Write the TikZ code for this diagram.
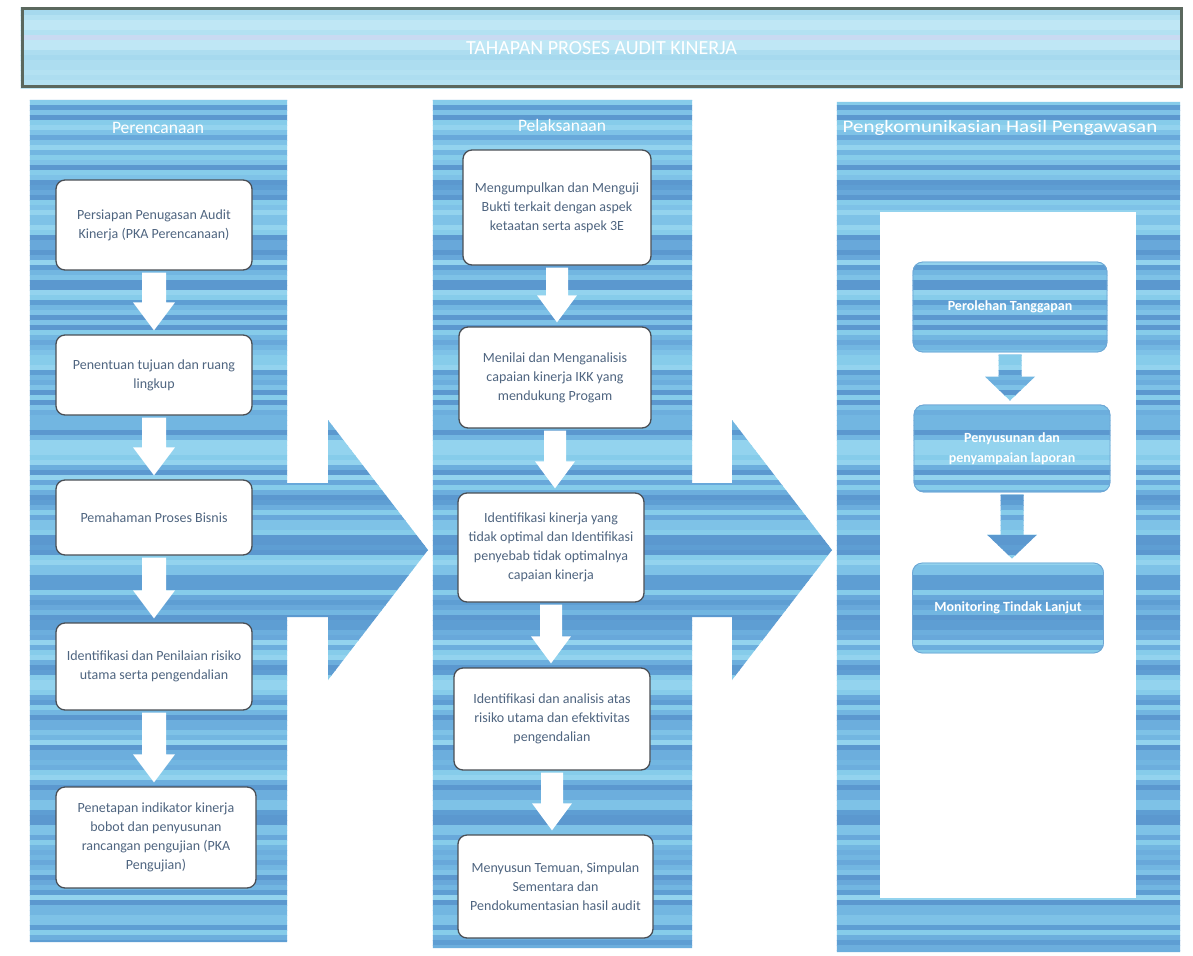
\documentclass[tikz,border=0pt]{standalone}
\usepackage{fontspec}
\setmainfont{Carlito}
\usetikzlibrary{calc}
\pgfdeclarelayer{back}
\pgfdeclarelayer{inner}
\pgfdeclarelayer{mid}
\pgfsetlayers{back,inner,mid,main}

\definecolor{st0}{HTML}{5E9ED3}
\definecolor{st1}{HTML}{72B6E1}
\definecolor{st2}{HTML}{86CCEA}
\definecolor{st3}{HTML}{68A8DA}
\definecolor{st4}{HTML}{7EC2E7}
\definecolor{st5}{HTML}{5B98CF}
\definecolor{st6}{HTML}{93D3EE}
\definecolor{st7}{HTML}{6CAEDD}
\definecolor{tt0}{HTML}{B3E1F2}
\definecolor{tt1}{HTML}{A6D9EE}
\definecolor{tt2}{HTML}{C9DAF2}
\definecolor{tt3}{HTML}{ADDDF0}
\definecolor{tt4}{HTML}{BFE7F5}
\definecolor{boxtext}{HTML}{4F6580}
\definecolor{boxline}{HTML}{4A4F55}
\definecolor{bannerline}{HTML}{5B685E}
\definecolor{bboxline}{HTML}{6FA6D4}

\newcommand{\bluestripes}{%
  \pgfmathsetseed{4242}%
  \foreach \k in {0,...,191}{%
    \pgfmathrandominteger{\ci}{0}{7}%
    \fill[st\ci] (0,\k*5) rectangle (1193,\k*5+5.6);}}
\newcommand{\titlestripes}{%
  \pgfmathsetseed{777}%
  \foreach \k in {0,...,19}{%
    \pgfmathrandominteger{\ci}{0}{4}%
    \fill[tt\ci] (0,\k*5) rectangle (1193,\k*5+5.6);}}

% small block arrow: #1 from node, #2 to node, #3 shaft half width, #4 head half width, #5 head length, #6 command, #7 options
\newcommand{\sarr}[7]{%
  #6[#7] let \p1=(#1.south), \p2=(#2.north) in
    (\x1-#3,\y1-2pt) -- (\x1-#3,\y2+#5+4pt) -- (\x1-#4,\y2+#5+4pt) --
    (\x1,\y2+4pt) -- (\x1+#4,\y2+#5+4pt) -- (\x1+#3,\y2+#5+4pt) --
    (\x1+#3,\y1-2pt) -- cycle;}
% big block arrow: #1 tail coordinate, #2 tip coordinate, #3 command
\newcommand{\barr}[3]{%
  #3 let \p1=(#1), \p2=(#2) in
    (\x1-2pt,\y1+67pt) -- (\x2-100pt,\y1+67pt) -- (\x2-100pt,\y1+130pt) --
    (\x2,\y1) -- (\x2-100pt,\y1-130pt) -- (\x2-100pt,\y1-67pt) --
    (\x1-2pt,\y1-67pt) -- cycle;}

\tikzset{
  wbox/.style={draw=boxline, line width=1.3pt, fill=white, rounded corners=9pt,
    align=center, text=boxtext, font=\fontsize{14}{19}\selectfont, inner sep=3pt},
  bbox/.style={draw=bboxline, line width=0.8pt, rounded corners=10pt,
    align=center, text=white, font=\bfseries\fontsize{14}{20}\selectfont, inner sep=3pt},
  colhead/.style={text=white, font=\fontsize{17.5}{20}\selectfont},
  colbox/.style={inner sep=0pt},
}

\begin{document}
\begin{tikzpicture}[x=1pt,y=-1pt]
\useasboundingbox (0,0) rectangle (1193,955);

% banner
\node[minimum width=1159pt, minimum height=78pt, inner sep=0pt, draw=bannerline, line width=3pt,
  text=white, font=\fontsize{20}{22}\selectfont] (banner) at (601.5,48) {TAHAPAN PROSES AUDIT KINERJA};

% columns
\node[colbox, minimum width=257pt, minimum height=842pt] (colA) at (158.5,521) {};
\node[colbox, minimum width=259pt, minimum height=848pt] (colB) at (562.5,524) {};
\node[colbox, minimum width=343pt, minimum height=850pt] (colC) at (1008.5,527) {};
\node[colhead] (hA) at (158,128) {Perencanaan};
\node[colhead] (hB) at (562,125) {Pelaksanaan};
\node[colhead, xscale=1.2] (hC) at (1000,128) {Pengkomunikasian Hasil Pengawasan};

\coordinate (aTail) at (287,550);
\coordinate (aTip) at (428,550);
\coordinate (bTail) at (692,550);
\coordinate (bTip) at (832,550);

% column 1 boxes
\node[wbox, minimum width=196pt, minimum height=90pt] (p1) at (154,225)
  {Persiapan Penugasan Audit\\Kinerja (PKA Perencanaan)};
\node[wbox, minimum width=196pt, minimum height=80pt] (p2) at (154,375)
  {Penentuan tujuan dan ruang\\lingkup};
\node[wbox, minimum width=196pt, minimum height=75pt] (p3) at (154,517.5)
  {Pemahaman Proses Bisnis};
\node[wbox, minimum width=196pt, minimum height=87pt] (p4) at (154,666.5)
  {Identifikasi dan Penilaian risiko\\utama serta pengendalian};
\node[wbox, minimum width=200pt, minimum height=101pt] (p5) at (156,837.5)
  {Penetapan indikator kinerja\\bobot dan penyusunan\\rancangan pengujian (PKA\\Pengujian)};

% column 2 boxes
\node[wbox, minimum width=188pt, minimum height=115pt] (l1) at (557,207.5)
  {Mengumpulkan dan Menguji\\Bukti terkait dengan aspek\\ketaatan serta aspek 3E};
\node[wbox, minimum width=192pt, minimum height=101pt] (l2) at (555,377.5)
  {Menilai dan Menganalisis\\capaian kinerja IKK yang\\mendukung Progam};
\node[wbox, minimum width=186pt, minimum height=109pt] (l3) at (551,547.5)
  {Identifikasi kinerja yang\\tidak optimal dan Identifikasi\\penyebab tidak optimalnya\\capaian kinerja};
\node[wbox, minimum width=196pt, minimum height=102pt] (l4) at (552,719)
  {Identifikasi dan analisis atas\\risiko utama dan efektivitas\\pengendalian};
\node[wbox, minimum width=195pt, minimum height=103pt] (l5) at (555.5,886.5)
  {Menyusun Temuan, Simpulan\\Sementara dan\\Pendokumentasian hasil audit};

% column 3 boxes
\node[bbox, minimum width=194pt, minimum height=90pt] (k1) at (1010,307) {Perolehan Tanggapan};
\node[bbox, minimum width=196pt, minimum height=87pt] (k2) at (1012,448.5) {Penyusunan dan\\penyampaian laporan};
\node[bbox, minimum width=191pt, minimum height=90pt] (k3) at (1008,608) {Monitoring Tindak Lanjut};

% background layer: stripes for banner, columns, big arrows
\begin{pgfonlayer}{back}
  \fill[white] (0,0) rectangle (1193,955);
  \begin{scope}
    \clip (banner.north west) rectangle (banner.south east);
    \titlestripes
  \end{scope}
  \begin{scope}
    \clip (colA.north west) rectangle (colA.south east)
          (colB.north west) rectangle (colB.south east)
          (colC.north west) rectangle (colC.south east);
    \bluestripes
  \end{scope}
  \begin{scope}
    \barr{aTail}{aTip}{\clip}
    \bluestripes
  \end{scope}
  \begin{scope}
    \barr{bTail}{bTip}{\clip}
    \bluestripes
  \end{scope}
\end{pgfonlayer}

\begin{pgfonlayer}{inner}
  \fill[white] (880,212) rectangle (1136,898);
\end{pgfonlayer}

\begin{pgfonlayer}{mid}
  \foreach \n in {k1,k2,k3}{%
    \begin{scope}
      \clip[rounded corners=10pt] (\n.north west) rectangle (\n.south east);
      \bluestripes
    \end{scope}}
  \begin{scope}
    \sarr{k1}{k2}{11.5pt}{25pt}{24pt}{\clip}{}
    \bluestripes
  \end{scope}
  \begin{scope}
    \sarr{k2}{k3}{11.5pt}{25pt}{24pt}{\clip}{}
    \bluestripes
  \end{scope}
\end{pgfonlayer}

% white arrows
\sarr{p1}{p2}{12pt}{21pt}{28pt}{\path}{fill=white}
\sarr{p2}{p3}{12pt}{21pt}{28pt}{\path}{fill=white}
\sarr{p3}{p4}{12pt}{21pt}{28pt}{\path}{fill=white}
\sarr{p4}{p5}{12pt}{21pt}{28pt}{\path}{fill=white}
\sarr{l1}{l2}{11pt}{20pt}{27pt}{\path}{fill=white}
\sarr{l2}{l3}{11pt}{20pt}{27pt}{\path}{fill=white}
\sarr{l3}{l4}{11pt}{20pt}{27pt}{\path}{fill=white}
\sarr{l4}{l5}{11pt}{20pt}{27pt}{\path}{fill=white}
\end{tikzpicture}
\end{document}
